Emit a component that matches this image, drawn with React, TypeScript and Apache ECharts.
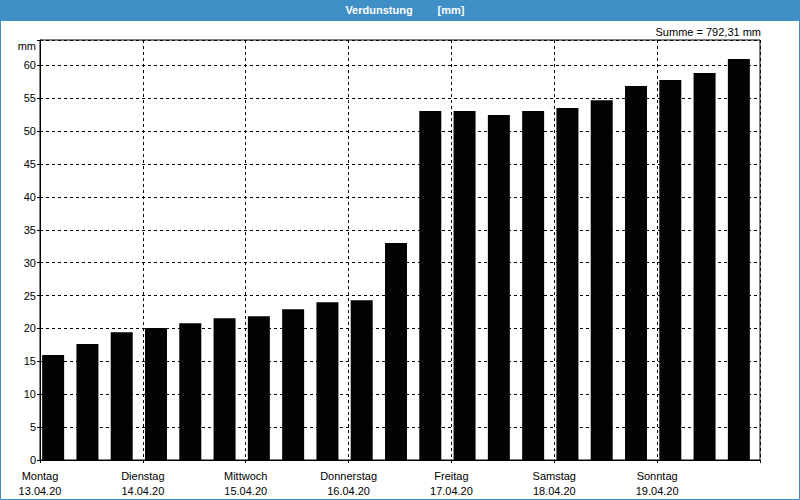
import React, { useEffect, useRef } from "react";
import * as echarts from "echarts";

const slotLabels = [
  "Mo 1", "Mo 2", "Mo 3",
  "Di 1", "Di 2", "Di 3",
  "Mi 1", "Mi 2", "Mi 3",
  "Do 1", "Do 2", "Do 3",
  "Fr 1", "Fr 2", "Fr 3",
  "Sa 1", "Sa 2", "Sa 3",
  "So 1", "So 2", "So 3",
];
const values = [
  15.95, 17.62, 19.44,
  20.05, 20.8, 21.56,
  21.86, 22.9, 24.0,
  24.3, 33.0, 53.06,
  53.06, 52.45, 53.06,
  53.5, 54.7, 56.86,
  57.77, 58.83, 60.96,
];
const dayNames = ["Montag", "Dienstag", "Mittwoch", "Donnerstag", "Freitag", "Samstag", "Sonntag"];
const dayDates = ["13.04.20", "14.04.20", "15.04.20", "16.04.20", "17.04.20", "18.04.20", "19.04.20"];
const titleMain = "Verdunstung";
const titleUnit = "[mm]";
const sumText = "Summe = 792,31 mm";
const yUnit = "mm";
const yMax = 63.85;
const yInterval = 5;
const yLastLabel = 60;

const FONT = "'Liberation Sans', Arial, sans-serif";
const BLUE = "#3d8fc6";

export default function App() {
  const ref = useRef<HTMLDivElement>(null);
  useEffect(() => {
    if (!ref.current) return;
    const chart = echarts.init(ref.current, null, { renderer: "svg" });
    const slotsPerDay = slotLabels.length / dayNames.length;
    chart.setOption({
      animation: false,
      backgroundColor: "#ffffff",
      textStyle: { fontFamily: FONT },
      grid: {
        left: 40,
        right: 40,
        top: 40,
        bottom: 40,
        show: true,
        borderColor: "#000",
        borderWidth: 1,
        backgroundColor: "transparent",
      },
      xAxis: [
        {
          type: "category",
          data: slotLabels,
          boundaryGap: true,
          axisLine: { show: false },
          axisTick: { show: false },
          axisLabel: { show: false },
          splitLine: { show: false },
        },
        {
          type: "value",
          position: "bottom",
          min: 0,
          max: slotLabels.length,
          interval: slotsPerDay,
          axisLine: { show: true, lineStyle: { color: "#000", width: 1 } },
          axisTick: { show: true, length: 3, lineStyle: { color: "#000" } },
          axisLabel: {
            show: true,
            margin: 8,
            color: "#000",
            fontSize: 11,
            fontFamily: FONT,
            lineHeight: 15,
            showMaxLabel: true,
            showMinLabel: true,
            formatter: (v: number) => {
              const i = Math.round(v / slotsPerDay);
              if (i >= dayNames.length) return "";
              return dayNames[i] + "\n" + dayDates[i];
            },
          },
          splitLine: {
            show: true,
            lineStyle: { color: "#000", type: [3, 3], width: 1 },
          },
        },
      ],
      yAxis: {
        type: "value",
        min: 0,
        max: yMax,
        interval: yInterval,
        axisLine: { show: true, lineStyle: { color: "#000", width: 1 } },
        axisTick: { show: true, length: 3, lineStyle: { color: "#000" } },
        axisLabel: {
          margin: 4,
          color: "#000",
          fontSize: 11,
          fontFamily: FONT,
          formatter: (v: number) => (v > yLastLabel + 0.01 ? "" : String(v)),
        },
        splitLine: {
          show: true,
          lineStyle: { color: "#000", type: [3, 3], width: 1 },
        },
      },
      series: [
        {
          type: "bar",
          xAxisIndex: 0,
          yAxisIndex: 0,
          data: values,
          barWidth: 22,
          barGap: "0%",
          itemStyle: { color: "#040205" },
          silent: true,
        },
        {
          type: "bar",
          xAxisIndex: 0,
          yAxisIndex: 0,
          data: values.map(() => "-"),
          barWidth: 8,
          barGap: "0%",
          silent: true,
        },
      ],
      graphic: [
        {
          type: "rect",
          shape: { x: 0, y: 0, width: 800, height: 21 },
          style: { fill: BLUE },
          silent: true,
        },
        {
          type: "rect",
          shape: { x: 0.5, y: 0.5, width: 799, height: 499 },
          style: { fill: "none", stroke: BLUE, lineWidth: 1 },
          silent: true,
        },
        {
          type: "text",
          x: 379,
          y: 10,
          style: {
            text: titleMain,
            fill: "#ffffff",
            font: `bold 11px ${FONT}`,
            align: "center",
            verticalAlign: "middle",
          },
        },
        {
          type: "text",
          x: 451,
          y: 10,
          style: {
            text: titleUnit,
            fill: "#ffffff",
            font: `bold 11px ${FONT}`,
            align: "center",
            verticalAlign: "middle",
          },
        },
        {
          type: "text",
          x: 761,
          y: 32,
          style: {
            text: sumText,
            fill: "#000",
            font: `11px ${FONT}`,
            align: "right",
            verticalAlign: "middle",
          },
        },
        {
          type: "text",
          x: 36,
          y: 46,
          style: {
            text: yUnit,
            fill: "#000",
            font: `11px ${FONT}`,
            align: "right",
            verticalAlign: "middle",
          },
        },
      ],
    });
    return () => chart.dispose();
  }, []);
  return (
    <div
      ref={ref}
      style={{ position: "fixed", left: 0, top: 0, width: 800, height: 500, background: "#fff" }}
    />
  );
}
